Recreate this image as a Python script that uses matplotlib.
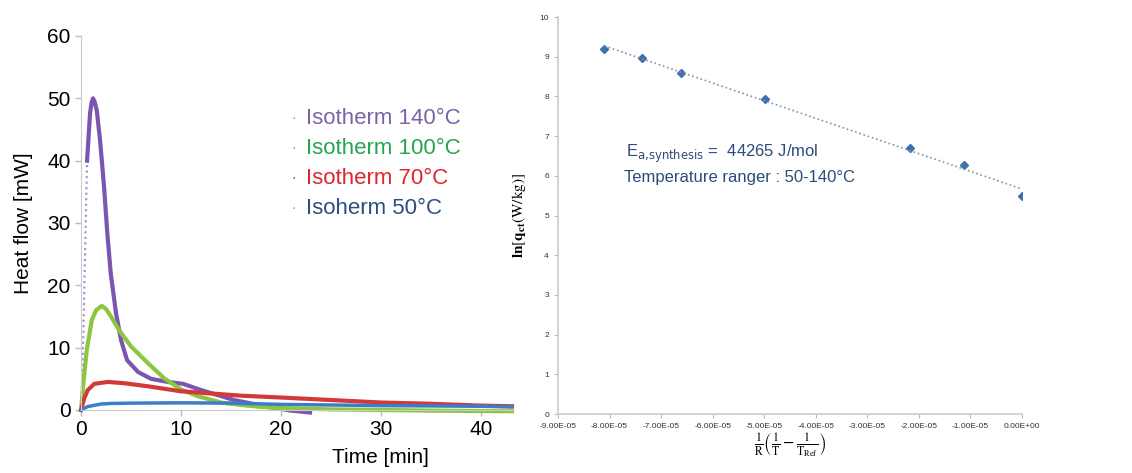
import numpy as np
import matplotlib.pyplot as plt

plt.rcParams['font.family'] = ['Liberation Sans', 'DejaVu Sans']

# -----------------------------
# Data – heat flow curves
# -----------------------------
t_140 = [0, 0.2, 0.4, 0.6, 0.9, 1.05, 1.2, 1.35, 1.57, 1.9, 2.3, 2.63, 2.97, 3.5, 4.0, 4.6,
         5.7, 7.0, 8.7, 10.2, 12, 15.3, 18.7, 21, 22.9]
q_140 = [0, 10, 25, 40, 47.6, 49.3, 50, 49.5, 48.1, 43.3, 35.8, 28.3, 21.9, 15.5, 11.2, 8.0,
         6.1, 5.0, 4.5, 4.2, 3.2, 1.6, 0.5, -0.1, -0.4]
n_dotted_140 = 4  # first points of the rise are only dotted

t_100 = [0, 0.23, 0.57, 1.07, 1.5, 2.07, 2.5, 3.0, 3.8, 5.0, 6.7, 8.3, 10, 11.7, 14, 16, 18, 20,
         25, 30, 35, 43.1]
q_100 = [0, 4.3, 9.6, 14.4, 16.0, 16.7, 16.2, 15.0, 12.8, 10.2, 7.5, 5.1, 3.3, 2.2, 1.2, 0.8,
         0.5, 0.3, 0.1, 0, -0.1, -0.2]

t_70 = [0, 0.3, 0.67, 1.33, 2.67, 4.3, 6.7, 10, 16, 20, 25, 30, 35, 40, 43.1]
q_70 = [0, 1.8, 3.2, 4.2, 4.5, 4.3, 3.8, 3.0, 2.3, 2.0, 1.6, 1.2, 1.0, 0.7, 0.6]

t_50 = [0, 0.67, 2, 3, 5, 10, 15, 20, 30, 40, 43.1]
q_50 = [0, 0.55, 0.96, 1.05, 1.1, 1.15, 1.1, 0.9, 0.7, 0.6, 0.5]

labels_left = ["Isotherm 140°C", "Isotherm 100°C", "Isotherm 70°C", "Isoherm 50°C"]
text_colors = ["#7a64a8", "#26a552", "#e0262b", "#2c4f80"]
line_colors = ["#7b55b0", "#8cc63f", "#d23a3a", "#3a7dc8"]

# -----------------------------
# Data – Arrhenius plot
# -----------------------------
x_arr = [-8.10e-5, -7.37e-5, -6.62e-5, -4.98e-5, -2.17e-5, -1.13e-5, 0.0]
y_arr = [9.19, 8.98, 8.60, 7.93, 6.71, 6.28, 5.50]
x_ticks = np.arange(-9e-5, 0.5e-5, 1e-5)
x_ticklabels = ["-9.00E-05", "-8.00E-05", "-7.00E-05", "-6.00E-05", "-5.00E-05",
                "-4.00E-05", "-3.00E-05", "-2.00E-05", "-1.00E-05", "0.00E+00"]

fig = plt.figure(figsize=(11.32, 4.73), dpi=100)

# -----------------------------
# Left panel
# -----------------------------
ax1 = fig.add_axes([0.0716, 0.1332, 0.3807, 0.7907])
ax1.plot(t_140[:n_dotted_140], q_140[:n_dotted_140], color="#a08ad0", lw=1.5, ls=":", clip_on=False)
ax1.plot(t_140[n_dotted_140 - 1:], q_140[n_dotted_140 - 1:], color=line_colors[0], lw=3,
         clip_on=False, solid_joinstyle="round")
ax1.plot(t_100, q_100, color=line_colors[1], lw=3, clip_on=False, solid_joinstyle="round")
ax1.plot(t_70, q_70, color=line_colors[2], lw=3, clip_on=False, solid_joinstyle="round")
ax1.plot(t_50, q_50, color=line_colors[3], lw=2.5, clip_on=False, solid_joinstyle="round")

ax1.set_xlim(0, 43.1)
ax1.set_ylim(0, 60)
ax1.set_xticks([0, 10, 20, 30, 40])
ax1.set_yticks([0, 10, 20, 30, 40, 50, 60])
ax1.tick_params(labelsize=15, color="#bbbbbb", length=4, width=1)
for s in ["top", "right"]:
    ax1.spines[s].set_visible(False)
for s in ["left", "bottom"]:
    ax1.spines[s].set_color("#cccccc")
ax1.set_ylabel("Heat flow [mW]", fontsize=15)
ax1.yaxis.set_label_coords(-0.112, 0.5)
ax1.set_xlabel("Time [min]", fontsize=15)
ax1.xaxis.set_label_coords(0.695, -0.102)

for i, (lab, c) in enumerate(zip(labels_left, text_colors)):
    yy = 0.78 - i * 0.08
    ax1.text(0.493, yy, "·", color="#999999" if i != 2 else c, fontsize=10,
             transform=ax1.transAxes, va="center", ha="center")
    ax1.text(0.522, yy, lab, color=c, fontsize=16, transform=ax1.transAxes, va="center")

# -----------------------------
# Right panel
# -----------------------------
ax2 = fig.add_axes([0.4929, 0.1247, 0.4099, 0.8393])
ax2.plot(x_arr, y_arr, ls="none", marker="D", ms=4.5, color="#3f6fad")

k, q = np.polyfit(x_arr, y_arr, 1)
x_fit = np.array([min(x_arr), max(x_arr)])
ax2.plot(x_fit, k * x_fit + q, ls=":", lw=1.2, color="#7f93ad")

ax2.set_xlim(-9e-5, 0)
ax2.set_ylim(0, 10)
ax2.set_xticks(x_ticks)
ax2.set_xticklabels(x_ticklabels)
ax2.set_yticks(range(0, 11))
ax2.tick_params(labelsize=6, color="#bbbbbb", length=3, width=0.8, labelcolor="#333333")
for s in ["top", "right"]:
    ax2.spines[s].set_visible(False)
for s in ["left", "bottom"]:
    ax2.spines[s].set_color("#cccccc")
    ax2.spines[s].set_linewidth(1.2)

ax2.set_xlabel(r"$\frac{1}{\mathrm{R}}\left(\frac{1}{\mathrm{T}}-\frac{1}{\mathrm{T_{Ref}}}\right)$",
               fontsize=12, math_fontfamily="stix", labelpad=1)
ax2.set_ylabel(r"$\mathbf{ln}\left[\mathbf{q_{ct}}\left(\mathrm{W/kg}\right)\right]$",
               fontsize=11, math_fontfamily="stix")
ax2.yaxis.set_label_coords(-0.065, 0.5)

ax2.text(0.146, 0.655, r"E$_{\mathrm{a{,}synthesis}}$ =  44265 J/mol", color="#2c4a7a",
         fontsize=12, transform=ax2.transAxes, va="center")
ax2.text(0.142, 0.597, "Temperature ranger : 50-140°C", color="#2c4a7a",
         fontsize=12, transform=ax2.transAxes, va="center")

fig.savefig("out.png", dpi=100)
